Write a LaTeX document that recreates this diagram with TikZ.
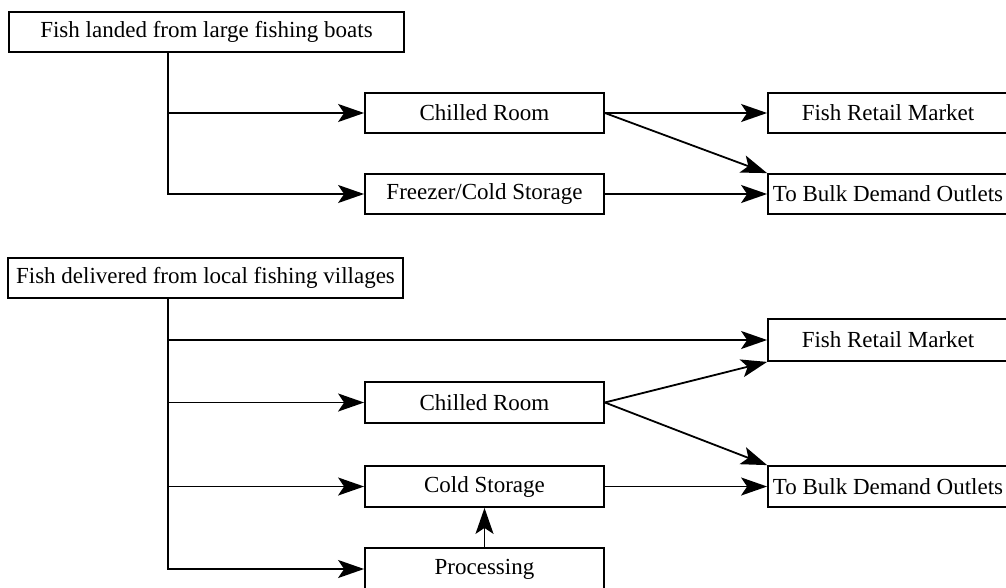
\documentclass[tikz,border=0pt]{standalone}
\usepackage{fontspec}
\setmainfont{Liberation Serif}
\usetikzlibrary{arrows.meta}
\tikzset{
  box/.style={draw, line width=1.8pt, inner sep=0pt, minimum height=40pt,
    font=\fontsize{23}{27}\selectfont},
  wbox/.style={box, minimum width=239pt},
  rbox/.style={box, minimum width=240pt},
  arr/.style={line width=1.8pt, -{Stealth[length=26pt,width=18pt,inset=6pt]}},
  ln/.style={line width=1.8pt}
}
\begin{document}
\begin{tikzpicture}[x=1pt,y=-1pt]
\useasboundingbox (0,0) rectangle (1006,587);
\clip (0,0) rectangle (1006,587);
\coordinate (tx) at (168,0);
% top section
\node[box, minimum width=395pt] (landed) at (206.5,32) {Fish landed from large fishing boats};
\node[wbox] (cr1) at (484.5,113) {Chilled Room};
\node[wbox] (fz1) at (484.5,194) {Freezer/Cold Storage};
\node[rbox] (frm1) at (888,113) {Fish Retail Market};
\node[rbox] (bulk1) at (888,194) {To Bulk Demand Outlets};
\draw[arr] (landed.south -| tx) |- (fz1.west);
\draw[arr] (cr1.west -| tx) -- (cr1.west);
\draw[arr] (cr1.east) -- (frm1.west);
\draw[arr] (cr1.east) -- (bulk1.north west);
\draw[arr] (fz1.east) -- (bulk1.west);
% bottom section
\node[box, minimum width=395pt] (deliv) at (205.5,278) {Fish delivered from local fishing villages};
\node[rbox, minimum height=42pt] (frm2) at (888,340) {Fish Retail Market};
\node[wbox, minimum height=41pt] (cr2) at (484.5,402.5) {Chilled Room};
\node[wbox, minimum height=41pt] (cs2) at (484.5,486.5) {Cold Storage};
\node[rbox, minimum height=41pt] (bulk2) at (888,486.5) {To Bulk Demand Outlets};
\node[wbox, minimum height=42pt] (proc) at (484.5,569) {Processing};
\draw[arr] (deliv.south -| tx) |- (proc.west);
\draw[arr] (frm2.west -| tx) -- (frm2.west);
\draw[arr] (cr2.west -| tx) -- (cr2.west);
\draw[arr] (cs2.west -| tx) -- (cs2.west);
\draw[arr] (cr2.east) -- (frm2.south west);
\draw[arr] (cr2.east) -- (bulk2.north west);
\draw[arr] (cs2.east) -- (bulk2.west);
\draw[arr] (proc.north) -- (cs2.south);
\end{tikzpicture}
\end{document}
